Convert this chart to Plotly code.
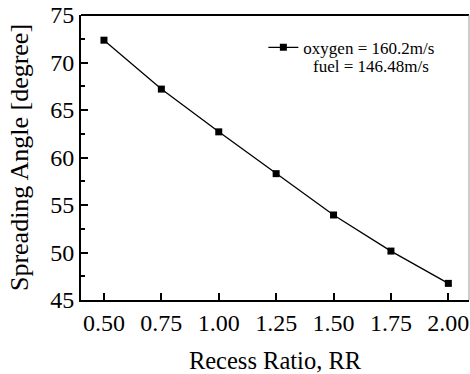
import plotly.graph_objects as go

recess_ratio = [0.50, 0.75, 1.00, 1.25, 1.50, 1.75, 2.00]
spreading_angle = [72.35, 67.2, 62.7, 58.3, 53.95, 50.15, 46.75]
x_ticks = [0.50, 0.75, 1.00, 1.25, 1.50, 1.75, 2.00]
x_ticklabels = ["0.50", "0.75", "1.00", "1.25", "1.50", "1.75", "2.00"]
y_ticks = [45, 50, 55, 60, 65, 70, 75]
series_name = "oxygen = 160.2m/s"
note_text = "fuel = 146.48m/s"

FONT = "Liberation Serif"

fig = go.Figure()
fig.add_trace(go.Scatter(
    x=recess_ratio, y=spreading_angle, mode="lines+markers",
    name=series_name,
    line=dict(color="black", width=1.3),
    marker=dict(symbol="square", size=7, color="black"),
))

fig.update_layout(
    width=470, height=374,
    margin=dict(l=81, r=1, t=15, b=71),
    paper_bgcolor="white", plot_bgcolor="white",
    font=dict(family=FONT, color="black"),
    showlegend=True,
    legend=dict(x=0.47, y=0.948, xanchor="left", yanchor="top",
                bgcolor="rgba(0,0,0,0)", font=dict(size=17, family=FONT),
                itemwidth=30, tracegroupgap=0),
    xaxis=dict(
        range=[0.4, 2.09], tickvals=x_ticks, ticktext=x_ticklabels,
        ticks="inside", ticklen=7, tickwidth=2, tickcolor="black",
        showline=True, linewidth=2, linecolor="black", mirror=False,
        showgrid=False, zeroline=False,
        tickfont=dict(size=24, family=FONT),
        title=dict(text="Recess Ratio, RR", font=dict(size=24.5, family=FONT), standoff=20),
    ),
    yaxis=dict(
        range=[45, 75], tickvals=y_ticks,
        ticks="inside", ticklen=7, tickwidth=2, tickcolor="black",
        minor=dict(ticks="inside", ticklen=4, tickwidth=2, tickcolor="black", dtick=2.5, tick0=45, showgrid=False),
        showline=True, linewidth=2, linecolor="black", mirror=False,
        showgrid=False, zeroline=False,
        tickfont=dict(size=24, family=FONT),
        title=dict(text="Spreading Angle [degree]", font=dict(size=26, family=FONT), standoff=14),
    ),
    shapes=[
        dict(type="line", xref="paper", yref="paper", x0=0, x1=1, y0=1, y1=1,
             line=dict(color="black", width=2)),
        dict(type="line", xref="paper", yref="paper", x0=1, x1=1, y0=0, y1=1,
             line=dict(color="#999999", width=1)),
    ],
    annotations=[
        dict(text=note_text, xref="paper", yref="paper", x=0.592, y=0.82,
             xanchor="left", yanchor="middle", showarrow=False,
             font=dict(size=17, family=FONT, color="black")),
    ],
)

fig.write_html("out.html")
